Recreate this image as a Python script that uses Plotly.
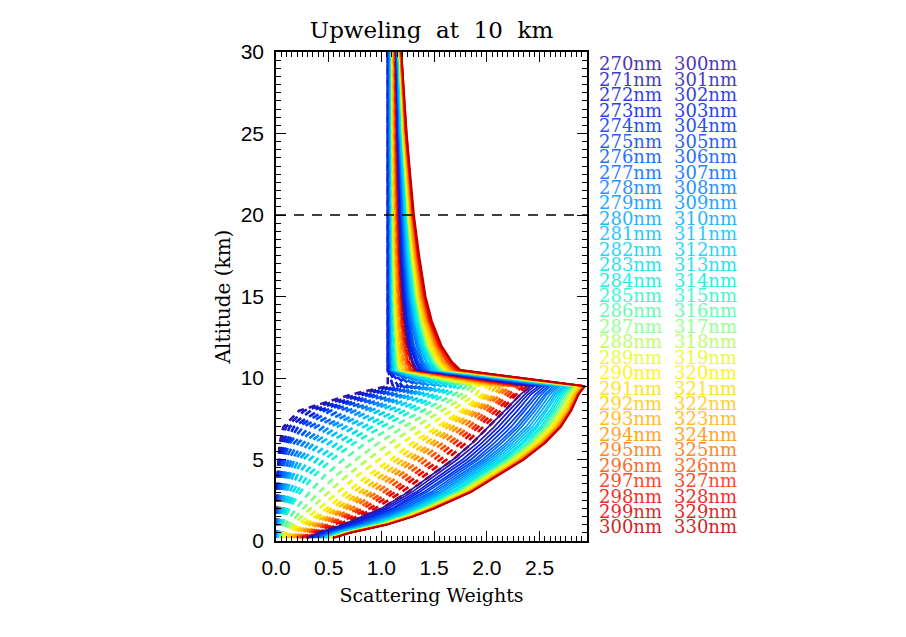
import plotly.graph_objects as go
from plotly.colors import sample_colorscale

# ---------------- data ----------------
altitude_km = [0.2, 0.5, 1, 1.5, 2, 3, 4, 5, 6, 7, 8, 9, 9.5,
               10.5, 11, 12, 13.5, 15, 17.5, 20, 25, 30]

wl_dashed = list(range(270, 301))   # dashed curves
wl_solid = list(range(300, 331))    # solid curves

dashed_270_300 = [
    [.002, .002, .003, .004, .005, .008, .012, .02, .035, .07, .22, .72, 1.06, 1.06, 1.06, 1.06, 1.06, 1.06, 1.06, 1.06, 1.06, 1.06],
    [.003, .003, .004, .005, .007, .011, .017, .028, .05, .095, .27, .78, 1.11, 1.06, 1.06, 1.06, 1.06, 1.06, 1.06, 1.06, 1.06, 1.06],
    [.004, .004, .005, .007, .009, .014, .023, .038, .068, .13, .33, .84, 1.16, 1.06, 1.06, 1.06, 1.06, 1.06, 1.06, 1.06, 1.06, 1.06],
    [.005, .005, .007, .009, .011, .018, .029, .05, .09, .17, .40, .90, 1.20, 1.07, 1.07, 1.07, 1.07, 1.07, 1.07, 1.07, 1.07, 1.07],
    [.006, .007, .008, .01, .013, .021, .034, .06, .11, .21, .46, .95, 1.25, 1.07, 1.07, 1.07, 1.07, 1.07, 1.07, 1.07, 1.07, 1.07],
    [.007, .008, .01, .012, .015, .025, .04, .07, .13, .26, .52, 1.0, 1.29, 1.09, 1.09, 1.08, 1.08, 1.07, 1.07, 1.07, 1.07, 1.07],
    [.009, .01, .013, .016, .02, .033, .054, .09, .17, .32, .60, 1.07, 1.34, 1.09, 1.09, 1.09, 1.09, 1.08, 1.08, 1.08, 1.08, 1.08],
    [.011, .012, .016, .021, .027, .043, .07, .12, .21, .38, .68, 1.13, 1.38, 1.09, 1.09, 1.09, 1.09, 1.09, 1.09, 1.09, 1.08, 1.08],
    [.013, .014, .02, .026, .034, .054, .087, .15, .26, .45, .75, 1.19, 1.43, 1.10, 1.09, 1.09, 1.09, 1.09, 1.09, 1.09, 1.08, 1.08],
    [.016, .017, .025, .032, .042, .067, .107, .18, .31, .51, .83, 1.25, 1.47, 1.10, 1.10, 1.10, 1.09, 1.09, 1.09, 1.09, 1.09, 1.09],
    [.02, .02, .03, .04, .05, .08, .13, .22, .36, .58, .90, 1.30, 1.52, 1.11, 1.10, 1.10, 1.10, 1.09, 1.09, 1.09, 1.09, 1.09],
    [.022, .024, .035, .048, .062, .10, .16, .26, .42, .66, .98, 1.36, 1.57, 1.11, 1.11, 1.10, 1.10, 1.10, 1.09, 1.09, 1.09, 1.09],
    [.024, .028, .041, .058, .078, .13, .20, .32, .50, .74, 1.06, 1.43, 1.62, 1.12, 1.11, 1.11, 1.10, 1.10, 1.10, 1.10, 1.10, 1.10],
    [.026, .032, .047, .068, .095, .16, .25, .39, .58, .83, 1.14, 1.50, 1.67, 1.13, 1.12, 1.11, 1.11, 1.10, 1.10, 1.10, 1.10, 1.10],
    [.028, .036, .053, .079, .11, .195, .30, .46, .66, .91, 1.22, 1.56, 1.71, 1.13, 1.13, 1.12, 1.11, 1.11, 1.10, 1.10, 1.10, 1.10],
    [.03, .04, .06, .09, .13, .23, .36, .53, .74, 1.0, 1.30, 1.62, 1.76, 1.14, 1.13, 1.12, 1.12, 1.11, 1.11, 1.10, 1.10, 1.10],
    [.035, .055, .09, .14, .19, .32, .46, .64, .85, 1.10, 1.39, 1.69, 1.81, 1.15, 1.14, 1.13, 1.12, 1.11, 1.11, 1.11, 1.10, 1.10],
    [.042, .07, .12, .19, .26, .41, .57, .76, .97, 1.21, 1.48, 1.76, 1.86, 1.16, 1.15, 1.14, 1.13, 1.12, 1.11, 1.11, 1.10, 1.10],
    [.05, .085, .16, .25, .33, .50, .67, .87, 1.08, 1.32, 1.57, 1.83, 1.90, 1.17, 1.16, 1.14, 1.13, 1.12, 1.12, 1.11, 1.11, 1.10],
    [.06, .10, .20, .31, .41, .59, .77, .98, 1.19, 1.43, 1.67, 1.90, 1.95, 1.18, 1.16, 1.15, 1.14, 1.13, 1.12, 1.12, 1.11, 1.10],
    [.07, .12, .24, .37, .48, .68, .87, 1.09, 1.29, 1.53, 1.76, 1.96, 2.00, 1.19, 1.17, 1.16, 1.14, 1.13, 1.12, 1.12, 1.11, 1.11],
    [.09, .15, .28, .41, .53, .74, .93, 1.15, 1.35, 1.58, 1.80, 2.00, 2.04, 1.20, 1.18, 1.16, 1.15, 1.14, 1.13, 1.12, 1.11, 1.11],
    [.11, .18, .32, .46, .58, .80, 1.00, 1.21, 1.41, 1.63, 1.84, 2.03, 2.09, 1.21, 1.19, 1.17, 1.16, 1.15, 1.13, 1.13, 1.12, 1.11],
    [.14, .21, .36, .50, .63, .85, 1.06, 1.26, 1.47, 1.68, 1.88, 2.07, 2.13, 1.23, 1.20, 1.18, 1.16, 1.15, 1.14, 1.13, 1.12, 1.12],
    [.16, .24, .40, .54, .67, .91, 1.11, 1.32, 1.52, 1.73, 1.92, 2.10, 2.18, 1.24, 1.21, 1.19, 1.17, 1.16, 1.14, 1.14, 1.13, 1.12],
    [.19, .27, .43, .58, .72, .96, 1.17, 1.38, 1.58, 1.78, 1.96, 2.14, 2.22, 1.25, 1.23, 1.20, 1.18, 1.16, 1.15, 1.14, 1.13, 1.12],
    [.21, .30, .47, .63, .78, 1.02, 1.23, 1.44, 1.64, 1.83, 2.00, 2.18, 2.26, 1.27, 1.24, 1.21, 1.19, 1.17, 1.16, 1.15, 1.13, 1.13],
    [.23, .33, .51, .68, .83, 1.08, 1.29, 1.50, 1.69, 1.88, 2.04, 2.21, 2.30, 1.28, 1.25, 1.22, 1.19, 1.18, 1.16, 1.15, 1.14, 1.13],
    [.25, .35, .55, .72, .89, 1.13, 1.35, 1.56, 1.75, 1.92, 2.09, 2.25, 2.34, 1.30, 1.26, 1.23, 1.20, 1.19, 1.17, 1.16, 1.14, 1.13],
    [.28, .38, .59, .77, .94, 1.19, 1.41, 1.62, 1.80, 1.97, 2.13, 2.28, 2.38, 1.31, 1.28, 1.24, 1.21, 1.19, 1.17, 1.16, 1.15, 1.14],
    [.30, .40, .63, .82, 1.00, 1.25, 1.47, 1.68, 1.86, 2.02, 2.17, 2.32, 2.42, 1.33, 1.29, 1.25, 1.22, 1.20, 1.18, 1.17, 1.15, 1.14],
]

solid_300_330 = [
    [.30, .40, .63, .82, 1.00, 1.25, 1.47, 1.68, 1.86, 2.02, 2.17, 2.32, 2.42, 1.33, 1.29, 1.25, 1.22, 1.20, 1.18, 1.17, 1.15, 1.14],
    [.32, .42, .66, .85, 1.03, 1.29, 1.51, 1.72, 1.91, 2.07, 2.21, 2.36, 2.45, 1.34, 1.30, 1.26, 1.23, 1.21, 1.19, 1.17, 1.15, 1.14],
    [.33, .44, .68, .88, 1.06, 1.33, 1.55, 1.77, 1.95, 2.11, 2.25, 2.39, 2.49, 1.36, 1.32, 1.27, 1.24, 1.21, 1.19, 1.18, 1.16, 1.14],
    [.35, .46, .71, .91, 1.10, 1.36, 1.59, 1.81, 1.99, 2.15, 2.29, 2.42, 2.52, 1.37, 1.33, 1.28, 1.25, 1.22, 1.20, 1.18, 1.16, 1.15],
    [.36, .47, .74, .94, 1.12, 1.40, 1.63, 1.85, 2.03, 2.19, 2.33, 2.46, 2.55, 1.39, 1.34, 1.29, 1.26, 1.23, 1.20, 1.19, 1.16, 1.15],
    [.38, .49, .76, .97, 1.15, 1.43, 1.66, 1.89, 2.07, 2.23, 2.36, 2.49, 2.58, 1.40, 1.35, 1.30, 1.26, 1.24, 1.21, 1.19, 1.17, 1.15],
    [.39, .51, .78, .99, 1.18, 1.47, 1.70, 1.92, 2.11, 2.27, 2.40, 2.52, 2.60, 1.41, 1.37, 1.31, 1.27, 1.24, 1.22, 1.20, 1.17, 1.15],
    [.40, .52, .80, 1.02, 1.21, 1.50, 1.73, 1.96, 2.14, 2.30, 2.43, 2.55, 2.63, 1.43, 1.38, 1.33, 1.28, 1.25, 1.22, 1.20, 1.17, 1.15],
    [.42, .54, .82, 1.04, 1.23, 1.53, 1.76, 1.99, 2.18, 2.33, 2.46, 2.57, 2.66, 1.44, 1.39, 1.34, 1.29, 1.26, 1.23, 1.21, 1.17, 1.15],
    [.43, .55, .84, 1.07, 1.26, 1.56, 1.79, 2.02, 2.21, 2.37, 2.49, 2.60, 2.68, 1.46, 1.40, 1.35, 1.30, 1.27, 1.23, 1.21, 1.18, 1.16],
    [.44, .57, .86, 1.09, 1.28, 1.58, 1.82, 2.05, 2.24, 2.40, 2.52, 2.63, 2.70, 1.47, 1.42, 1.36, 1.31, 1.27, 1.24, 1.22, 1.18, 1.16],
    [.45, .58, .88, 1.11, 1.30, 1.61, 1.85, 2.08, 2.27, 2.43, 2.55, 2.65, 2.73, 1.48, 1.43, 1.37, 1.32, 1.28, 1.25, 1.22, 1.18, 1.16],
    [.46, .59, .90, 1.13, 1.32, 1.63, 1.87, 2.11, 2.30, 2.46, 2.57, 2.67, 2.75, 1.50, 1.44, 1.38, 1.32, 1.29, 1.25, 1.23, 1.19, 1.16],
    [.47, .60, .92, 1.15, 1.34, 1.66, 1.90, 2.14, 2.33, 2.48, 2.60, 2.69, 2.77, 1.51, 1.46, 1.39, 1.33, 1.30, 1.26, 1.23, 1.19, 1.16],
    [.48, .62, .93, 1.16, 1.36, 1.68, 1.92, 2.16, 2.35, 2.51, 2.62, 2.71, 2.79, 1.53, 1.47, 1.40, 1.34, 1.30, 1.26, 1.24, 1.19, 1.16],
    [.49, .63, .95, 1.18, 1.38, 1.70, 1.94, 2.18, 2.38, 2.53, 2.64, 2.73, 2.80, 1.54, 1.48, 1.41, 1.35, 1.31, 1.27, 1.24, 1.20, 1.17],
    [.50, .64, .96, 1.20, 1.39, 1.72, 1.96, 2.20, 2.40, 2.55, 2.66, 2.75, 2.82, 1.55, 1.49, 1.42, 1.36, 1.32, 1.28, 1.25, 1.20, 1.17],
    [.50, .64, .97, 1.21, 1.41, 1.74, 1.98, 2.22, 2.42, 2.57, 2.68, 2.77, 2.83, 1.57, 1.51, 1.43, 1.37, 1.33, 1.28, 1.25, 1.20, 1.17],
    [.51, .65, .98, 1.22, 1.42, 1.75, 2.00, 2.24, 2.44, 2.59, 2.70, 2.78, 2.85, 1.58, 1.52, 1.44, 1.38, 1.33, 1.29, 1.25, 1.20, 1.17],
    [.52, .66, .99, 1.24, 1.43, 1.77, 2.02, 2.26, 2.46, 2.61, 2.72, 2.80, 2.86, 1.60, 1.53, 1.45, 1.39, 1.34, 1.29, 1.26, 1.21, 1.17],
    [.52, .67, 1.00, 1.25, 1.44, 1.78, 2.03, 2.28, 2.47, 2.62, 2.73, 2.81, 2.87, 1.61, 1.54, 1.46, 1.39, 1.35, 1.30, 1.26, 1.21, 1.17],
    [.53, .67, 1.01, 1.26, 1.46, 1.80, 2.04, 2.29, 2.49, 2.64, 2.74, 2.82, 2.88, 1.62, 1.56, 1.47, 1.40, 1.35, 1.31, 1.27, 1.21, 1.18],
    [.53, .68, 1.02, 1.27, 1.46, 1.81, 2.06, 2.30, 2.50, 2.65, 2.76, 2.83, 2.89, 1.64, 1.57, 1.49, 1.41, 1.36, 1.31, 1.27, 1.22, 1.18],
    [.54, .68, 1.03, 1.27, 1.47, 1.82, 2.07, 2.31, 2.51, 2.66, 2.77, 2.84, 2.90, 1.65, 1.58, 1.50, 1.42, 1.37, 1.32, 1.28, 1.22, 1.18],
    [.54, .69, 1.03, 1.28, 1.48, 1.83, 2.08, 2.32, 2.52, 2.67, 2.78, 2.85, 2.91, 1.67, 1.59, 1.51, 1.43, 1.38, 1.32, 1.28, 1.22, 1.18],
    [.54, .69, 1.04, 1.29, 1.49, 1.83, 2.08, 2.33, 2.53, 2.68, 2.78, 2.86, 2.92, 1.68, 1.61, 1.52, 1.44, 1.38, 1.33, 1.29, 1.23, 1.18],
    [.55, .70, 1.04, 1.29, 1.49, 1.84, 2.09, 2.34, 2.54, 2.69, 2.79, 2.86, 2.92, 1.69, 1.62, 1.53, 1.45, 1.39, 1.34, 1.29, 1.23, 1.18],
    [.55, .70, 1.05, 1.30, 1.50, 1.84, 2.09, 2.34, 2.54, 2.69, 2.79, 2.87, 2.93, 1.71, 1.63, 1.54, 1.45, 1.40, 1.34, 1.30, 1.23, 1.19],
    [.55, .70, 1.05, 1.30, 1.50, 1.85, 2.10, 2.35, 2.55, 2.70, 2.80, 2.87, 2.93, 1.72, 1.65, 1.55, 1.46, 1.41, 1.35, 1.30, 1.23, 1.19],
    [.55, .70, 1.05, 1.30, 1.50, 1.85, 2.10, 2.35, 2.55, 2.70, 2.80, 2.87, 2.93, 1.74, 1.66, 1.56, 1.47, 1.41, 1.35, 1.30, 1.24, 1.19],
    [.55, .70, 1.05, 1.30, 1.50, 1.85, 2.10, 2.35, 2.55, 2.70, 2.80, 2.87, 2.93, 1.75, 1.67, 1.57, 1.48, 1.42, 1.36, 1.31, 1.24, 1.19],
]

ref_altitude_km = 20
x_tick_vals = [0.0, 0.5, 1.0, 1.5, 2.0, 2.5]
y_tick_vals = [0, 5, 10, 15, 20, 25, 30]
x_range = [0, 2.95]
y_range = [0, 30]

# ---------------- style ----------------
rainbow = [
    [0.00, 'rgb(45,20,165)'], [0.10, 'rgb(0,35,235)'], [0.25, 'rgb(0,115,255)'],
    [0.38, 'rgb(0,200,255)'], [0.48, 'rgb(0,240,225)'], [0.56, 'rgb(120,255,140)'],
    [0.65, 'rgb(255,250,0)'], [0.76, 'rgb(255,185,0)'], [0.86, 'rgb(255,90,0)'],
    [0.94, 'rgb(240,0,0)'], [1.00, 'rgb(190,0,0)'],
]
n = len(wl_dashed)
colors = sample_colorscale(rainbow, [k / (n - 1) for k in range(n)])

SERIF = 'DejaVu Serif'
SANS = 'Liberation Sans, Arial, sans-serif'

# the page body adds an 8px margin, so the figure is drawn 8px smaller
FIG_W, FIG_H = 898, 629
M_L, M_T = 268, 44
PLOT_W, PLOT_H = 311, 489

fig = go.Figure()

for k, (wl, row) in enumerate(zip(wl_dashed, dashed_270_300)):
    fig.add_trace(go.Scatter(x=row, y=altitude_km, mode='lines', name=f'{wl}nm',
                             line=dict(color=colors[k], width=2.6, dash='7px,5px'),
                             showlegend=False, hoverinfo='skip'))

for k, (wl, row) in enumerate(zip(wl_solid, solid_300_330)):
    fig.add_trace(go.Scatter(x=row, y=altitude_km, mode='lines', name=f'{wl}nm',
                             line=dict(color=colors[k], width=1.7),
                             showlegend=False, hoverinfo='skip'))

# horizontal dashed reference line at 20 km
fig.add_shape(type='line', xref='paper', x0=0, x1=1, yref='y',
              y0=ref_altitude_km, y1=ref_altitude_km,
              line=dict(color='black', width=1.5, dash='10px,8px'))

# text legend (two columns of coloured labels)
row0_px, row_step_px = 12, 15.43   # from top of plot area
for k in range(n):
    ypos = 1 - (row0_px + k * row_step_px) / PLOT_H
    fig.add_annotation(x=1.032, y=ypos, xref='paper', yref='paper', xanchor='left',
                       yanchor='middle', showarrow=False, text=f'{wl_dashed[k]}nm',
                       opacity=0.85,
                       font=dict(family=SERIF, size=18, color=colors[k]))
    fig.add_annotation(x=1.273, y=ypos, xref='paper', yref='paper', xanchor='left',
                       yanchor='middle', showarrow=False, text=f'{wl_solid[k]}nm',
                       opacity=0.85,
                       font=dict(family=SERIF, size=18, color=colors[k]))

axis_common = dict(showgrid=False, zeroline=False, showline=True, linecolor='black',
                   linewidth=1.5, mirror='allticks', ticks='inside', ticklen=10,
                   tickwidth=1.2, tickcolor='black',
                   tickfont=dict(family=SANS, size=21, color='black'))

fig.update_xaxes(range=x_range, tickvals=x_tick_vals,
                 ticktext=[f'{v:.1f}' for v in x_tick_vals],
                 minor=dict(dtick=0.05, tick0=0, ticks='inside', ticklen=5, tickcolor='black'),
                 ticklabelstandoff=7,
                 title=dict(text='Scattering Weights', font=dict(family=SERIF, size=19, color='black'),
                            standoff=11),
                 **axis_common)
fig.update_yaxes(range=y_range, tickvals=y_tick_vals,
                 minor=dict(dtick=0.5, tick0=0, ticks='inside', ticklen=5, tickcolor='black'),
                 ticklabelstandoff=6,
                 title=dict(text='Altitude (km)', font=dict(family=SERIF, size=20, color='black'),
                            standoff=5),
                 **axis_common)

fig.update_layout(
    width=FIG_W, height=FIG_H,
    margin=dict(l=M_L, r=FIG_W - M_L - PLOT_W, t=M_T, b=FIG_H - M_T - PLOT_H, autoexpand=False),
    paper_bgcolor='white', plot_bgcolor='white',
    showlegend=False,
    title=dict(text='Upweling\u00a0 at\u00a0 10\u00a0 km', x=0.5, xref='paper',
               y=1 - 22 / FIG_H, yref='container', yanchor='middle', xanchor='center',
               font=dict(family=SERIF, size=23, color='black')),
)

fig.write_html('out.html')
